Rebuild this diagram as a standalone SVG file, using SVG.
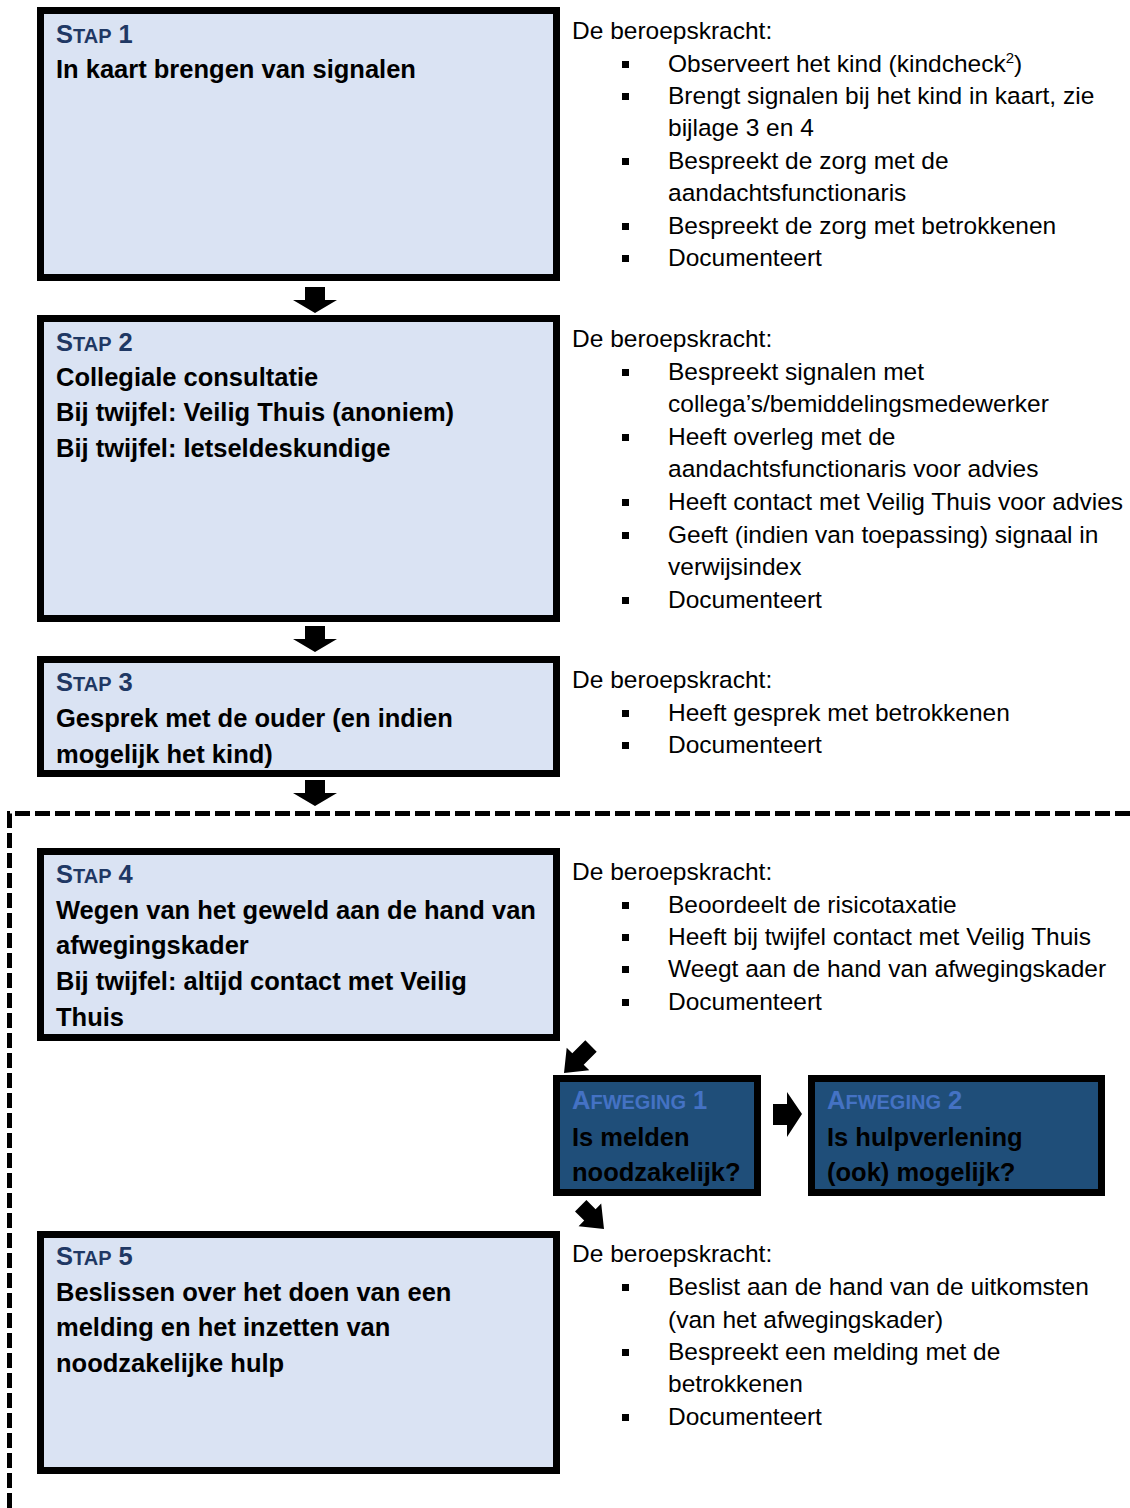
<svg xmlns="http://www.w3.org/2000/svg" width="1130" height="1508" viewBox="0 0 1130 1508">
<style>
.box{fill:#DAE3F3;stroke:#000;stroke-width:7}
.dbox{fill:#1F4E79;stroke:#000;stroke-width:7}
.t{font-family:"Liberation Sans",Arial,sans-serif;font-weight:bold;font-size:25.5px;fill:#000}
.lab{fill:#1F3864}
.alab{fill:#4472C4}
.sc{font-size:20px}
.n{font-family:"Liberation Sans",Arial,sans-serif;font-size:24.5px;fill:#000}
.b{fill:#000}
.frame{fill:none;stroke:#000;stroke-width:5;stroke-dasharray:15 5}
</style>
<defs>
<path id="down" d="M-10,-26 H10 V-13 H22 L0,0 L-22,-13 H-10 Z" fill="#000"/>
<rect id="bul" width="7" height="7" fill="#000"/>
</defs>
<rect width="1130" height="1508" fill="#fff"/>
<path class="frame" d="M9.5,1508 V813.5 H1130"/>

<g id="stap1">
<rect class="box" x="40.5" y="10.5" width="516" height="267"/>
<text class="t lab" x="56" y="43">S<tspan class="sc">TAP</tspan> 1</text>
<text class="t" x="56" y="78">In kaart brengen van signalen</text>
</g>
<g id="stap1-notes">
<text class="n" x="572" y="39">De beroepskracht:</text>
<use href="#bul" x="622" y="61"/><text class="n" x="668" y="72">Observeert het kind (kindcheck<tspan font-size="15" dy="-9">2</tspan><tspan dy="9">)</tspan></text>
<use href="#bul" x="622" y="93"/><text class="n" x="668" y="104">Brengt signalen bij het kind in kaart, zie</text>
<text class="n" x="668" y="136">bijlage 3 en 4</text>
<use href="#bul" x="622" y="158"/><text class="n" x="668" y="169">Bespreekt de zorg met de</text>
<text class="n" x="668" y="201">aandachtsfunctionaris</text>
<use href="#bul" x="622" y="223"/><text class="n" x="668" y="234">Bespreekt de zorg met betrokkenen</text>
<use href="#bul" x="622" y="255"/><text class="n" x="668" y="266">Documenteert</text>
</g>

<g id="stap2">
<rect class="box" x="40.5" y="318.5" width="516" height="300"/>
<text class="t lab" x="56" y="351">S<tspan class="sc">TAP</tspan> 2</text>
<text class="t" x="56" y="386">Collegiale consultatie</text>
<text class="t" x="56" y="421">Bij twijfel: Veilig Thuis (anoniem)</text>
<text class="t" x="56" y="457">Bij twijfel: letseldeskundige</text>
</g>
<g id="stap2-notes">
<text class="n" x="572" y="347">De beroepskracht:</text>
<use href="#bul" x="622" y="369"/><text class="n" x="668" y="380">Bespreekt signalen met</text>
<text class="n" x="668" y="412">collega’s/bemiddelingsmedewerker</text>
<use href="#bul" x="622" y="434"/><text class="n" x="668" y="445">Heeft overleg met de</text>
<text class="n" x="668" y="477">aandachtsfunctionaris voor advies</text>
<use href="#bul" x="622" y="499"/><text class="n" x="668" y="510" textLength="455" lengthAdjust="spacingAndGlyphs">Heeft contact met Veilig Thuis voor advies</text>
<use href="#bul" x="622" y="532"/><text class="n" x="668" y="543">Geeft (indien van toepassing) signaal in</text>
<text class="n" x="668" y="575">verwijsindex</text>
<use href="#bul" x="622" y="597"/><text class="n" x="668" y="608">Documenteert</text>
</g>

<g id="stap3">
<rect class="box" x="40.5" y="659.5" width="516" height="114"/>
<text class="t lab" x="56" y="691">S<tspan class="sc">TAP</tspan> 3</text>
<text class="t" x="56" y="727">Gesprek met de ouder (en indien</text>
<text class="t" x="56" y="763">mogelijk het kind)</text>
</g>
<g id="stap3-notes">
<text class="n" x="572" y="688">De beroepskracht:</text>
<use href="#bul" x="622" y="710"/><text class="n" x="668" y="721">Heeft gesprek met betrokkenen</text>
<use href="#bul" x="622" y="742"/><text class="n" x="668" y="753">Documenteert</text>
</g>

<g id="stap4">
<rect class="box" x="40.5" y="851.5" width="516" height="186"/>
<text class="t lab" x="56" y="883">S<tspan class="sc">TAP</tspan> 4</text>
<text class="t" x="56" y="919">Wegen van het geweld aan de hand van</text>
<text class="t" x="56" y="954">afwegingskader</text>
<text class="t" x="56" y="990">Bij twijfel: altijd contact met Veilig</text>
<text class="t" x="56" y="1026">Thuis</text>
</g>
<g id="stap4-notes">
<text class="n" x="572" y="880">De beroepskracht:</text>
<use href="#bul" x="622" y="902"/><text class="n" x="668" y="913">Beoordeelt de risicotaxatie</text>
<use href="#bul" x="622" y="934"/><text class="n" x="668" y="945">Heeft bij twijfel contact met Veilig Thuis</text>
<use href="#bul" x="622" y="966"/><text class="n" x="668" y="977">Weegt aan de hand van afwegingskader</text>
<use href="#bul" x="622" y="999"/><text class="n" x="668" y="1010">Documenteert</text>
</g>

<g id="afweging1">
<rect class="dbox" x="556.5" y="1078.5" width="201" height="114"/>
<text class="t alab" x="572" y="1109">A<tspan class="sc">FWEGING</tspan> 1</text>
<text class="t" x="572" y="1146">Is melden</text>
<text class="t" x="572" y="1181">noodzakelijk?</text>
</g>

<g id="afweging2">
<rect class="dbox" x="811.5" y="1078.5" width="290" height="114"/>
<text class="t alab" x="827" y="1109">A<tspan class="sc">FWEGING</tspan> 2</text>
<text class="t" x="827" y="1146">Is hulpverlening</text>
<text class="t" x="827" y="1181">(ook) mogelijk?</text>
</g>

<g id="stap5">
<rect class="box" x="40.5" y="1234.5" width="516" height="236"/>
<text class="t lab" x="56" y="1265">S<tspan class="sc">TAP</tspan> 5</text>
<text class="t" x="56" y="1301">Beslissen over het doen van een</text>
<text class="t" x="56" y="1336">melding en het inzetten van</text>
<text class="t" x="56" y="1372">noodzakelijke hulp</text>
</g>
<g id="stap5-notes">
<text class="n" x="572" y="1262">De beroepskracht:</text>
<use href="#bul" x="622" y="1284"/><text class="n" x="668" y="1295">Beslist aan de hand van de uitkomsten</text>
<text class="n" x="668" y="1328">(van het afwegingskader)</text>
<use href="#bul" x="622" y="1349"/><text class="n" x="668" y="1360">Bespreekt een melding met de</text>
<text class="n" x="668" y="1392">betrokkenen</text>
<use href="#bul" x="622" y="1414"/><text class="n" x="668" y="1425">Documenteert</text>
</g>

<g id="connectors">
<use href="#down" x="315" y="313"/>
<use href="#down" x="315" y="652"/>
<use href="#down" x="315" y="806"/>
<path d="M773,1104 H787 V1092 L802,1114 L787,1137 V1125 H773 Z" fill="#000"/>
<path d="M585.3,1040.3 L596.7,1051.7 L583.7,1064.7 L589.3,1070.3 L564,1073 L566.7,1047.7 L572.3,1053.3 Z" fill="#000"/>
<path d="M575,1211.4 L586.4,1200 L595.6,1209.2 L601.2,1203.6 L604,1229 L578.6,1226.2 L584.2,1220.6 Z" fill="#000"/>
</g>
</svg>
